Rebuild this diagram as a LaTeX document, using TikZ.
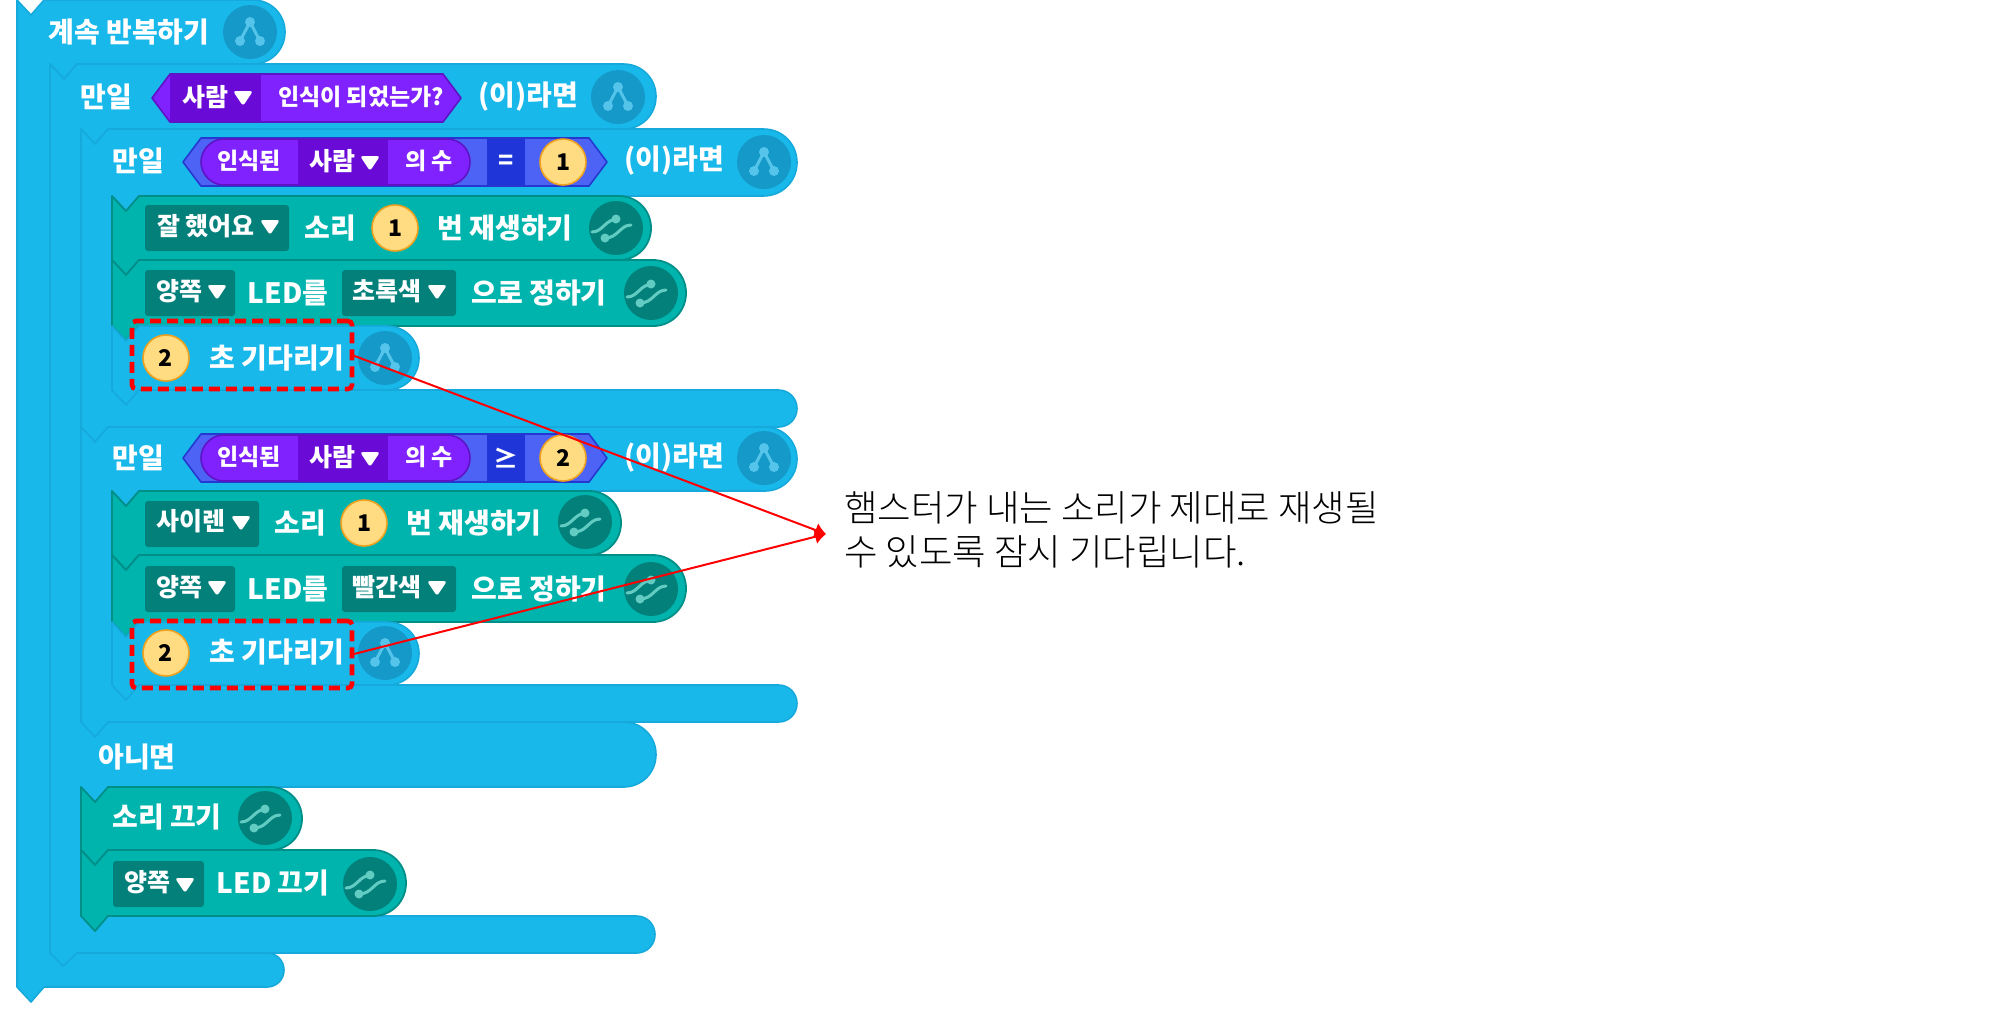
\documentclass[tikz,border=0pt]{standalone}
\usepackage{fontspec}
\setmainfont{Noto Sans CJK KR}
\newfontfamily\notefont{Noto Sans CJK KR Light}
\usetikzlibrary{arrows.meta}
\definecolor{bfill}{HTML}{19B8EA}
\definecolor{bedge}{HTML}{16A9DB}
\definecolor{bicon}{HTML}{1599C8}
\definecolor{bglyph}{HTML}{55C4EA}
\definecolor{gfill}{HTML}{00B4AE}
\definecolor{gedge}{HTML}{008F88}
\definecolor{gdark}{HTML}{03807A}
\definecolor{gglyph}{HTML}{62CCC2}
\definecolor{pfill}{HTML}{7F22FE}
\definecolor{pdark}{HTML}{6A0AD6}
\definecolor{pedge}{HTML}{5E14C4}
\definecolor{hfill}{HTML}{4C63F5}
\definecolor{hdark}{HTML}{1F35D8}
\definecolor{hedge}{HTML}{2438D0}
\definecolor{cfill}{HTML}{FFDC82}
\definecolor{cedge}{HTML}{F0A21E}
\newcount\lblno
% right-hand rounded end of a block
\newcommand\rendcap[3]{-- ({#1-(#3-(#2))*0.5},#2) .. controls ({#1-(#3-(#2))*0.22},#2) and (#1,{#2+(#3-(#2))*0.22}) .. (#1,{(#2+#3)/2}) .. controls (#1,{#3-(#3-(#2))*0.22}) and ({#1-(#3-(#2))*0.22},#3) .. ({#1-(#3-(#2))*0.5},#3)}
% stacked block: style, L, T, R, B
\newcommand\stackblock[5]{\draw[#1] (#2,#3) -- ({#2+14},{#3+15}) -- ({#2+27},#3) \rendcap{#4}{#3}{#5} -- ({#2+27},#5) -- ({#2+14},{#5+15}) -- (#2,#5) -- cycle;}
% one-arm C block: L, T, R, B1, armB, R2, B2, inner
\newcommand\armblock[8]{\draw[blueblk] (#1,#2) -- ({#1+14},{#2+15}) -- ({#1+27},#2) \rendcap{#3}{#2}{#4} -- ({#8+27},#4) -- ({#8+14},{#4+15}) -- (#8,#4) -- (#8,#5) \rendcap{#6}{#5}{#7} -- ({#1+27},#7) -- ({#1+14},{#7+15}) -- (#1,{#7}) -- cycle;}
\newcommand\lbl[3][wtext]{\global\advance\lblno by 1 \node[#1] (t\the\lblno) at (#2) {#3};}
\newcommand\tridown[2]{\fill[white,rounded corners=1.4pt] ({#1-10},{#2-6}) -- ({#1+10},{#2-6}) -- (#1,{#2+9}) -- cycle;}
\newcommand\dropbox[4]{\fill[#1,rounded corners=1.5pt] (#2,{#3}) rectangle #4;}
\newcommand\branchicon[2]{\fill[bicon] (#1,#2) circle [radius=27];
 \draw[bglyph,line width=1.5pt,line join=round] ({#1-10},{#2+9}) -- (#1,{#2-10}) -- ({#1+10},{#2+9});
 \fill[bglyph] (#1,{#2-10}) circle [radius=5] ({#1-10},{#2+9}) circle [radius=5] ({#1+10},{#2+9}) circle [radius=5];}
\newcommand\waveicon[2]{\fill[gdark] (#1,#2) circle [radius=27];
 \draw[gglyph,line width=1.5pt,line cap=round] ({#1-24},{#2+4}) .. controls ({#1-13},{#2+4}) and ({#1-11},{#2-9}) .. ({#1+2},{#2-9});
 \draw[gglyph,line width=1.5pt,line cap=round] ({#1+15},{#2-3}) .. controls ({#1+4},{#2-3}) and ({#1+2},{#2+10}) .. ({#1-11},{#2+10});
 \fill[gglyph] ({#1},{#2-9}) circle [radius=4.5] ({#1-11},{#2+10}) circle [radius=4.5];}
\newcommand\numcirc[3]{\global\advance\lblno by 1 \node[numc] (t\the\lblno) at (#1,#2) {#3};}
\tikzset{
 x=0.5pt,y=-0.5pt,
 blueblk/.style={fill=bfill,draw=bedge,line width=0.8pt,line join=round},
 greenblk/.style={fill=gfill,draw=gedge,line width=0.9pt,line join=round},
 wtext/.style={text=white,font=\fontsize{14}{14}\selectfont\bfseries,inner sep=0pt},
 stext/.style={text=white,font=\fontsize{12.5}{12.5}\selectfont\bfseries,inner sep=0pt},
 xtext/.style={text=white,font=\fontsize{11.5}{11.5}\selectfont\bfseries,inner sep=0pt},
 numc/.style={circle,fill=cfill,draw=cedge,line width=0.8pt,minimum size=23pt,inner sep=0pt,text=black,font=\fontsize{11.5}{11.5}\selectfont\bfseries},
 dashbox/.style={draw=red,line width=2.3pt,dash pattern=on 5.5pt off 3pt,rounded corners=2pt,inner sep=0pt,outer sep=0pt},
 callout/.style={red,line width=1pt,-{Latex[length=5.5pt,width=7.5pt]}},
 notetext/.style={align=left,anchor=west,inner sep=0pt,text=black,font=\notefont\fontsize{18.2}{22}\selectfont},
}
\begin{document}
\begin{tikzpicture}
\useasboundingbox (0,0) rectangle (2000,1008);
\fill[white] (0,0) rectangle (2000,1008);
% outer loop
\armblock{17}{0}{285}{64}{953}{284}{987}{50}
% if-else
\draw[blueblk] (50,64) -- (64,79) -- (77,64) \rendcap{656}{64}{129} -- (108,129) -- (95,144) -- (81,129) -- (81,722) \rendcap{656}{722}{787} -- (108,787) -- (95,802) -- (81,787) -- (81,916) \rendcap{655}{916}{953} -- (77,953) -- (63,966) -- (50,953) -- cycle;
% inner ifs
\armblock{81}{129}{797}{196}{390}{797}{427}{112}
\armblock{81}{427}{797}{491}{685}{797}{722}{112}
% first branch
\stackblock{greenblk}{112}{196}{651}{260}
\stackblock{greenblk}{112}{260}{686}{326}
\stackblock{blueblk}{112}{326}{419}{390}
% second branch
\stackblock{greenblk}{112}{491}{621}{555}
\stackblock{greenblk}{112}{555}{686}{622}
\stackblock{blueblk}{112}{622}{419}{685}
% else branch
\stackblock{greenblk}{81}{787}{302}{850}
\stackblock{greenblk}{81}{850}{406}{916}
% icons
\branchicon{250}{32}
\branchicon{618}{97}
\branchicon{764}{162}
\branchicon{764}{458}
\branchicon{385}{358}
\branchicon{385}{653}
\waveicon{616}{228}
\waveicon{651}{293}
\waveicon{585}{522}
\waveicon{651}{589}
\waveicon{265}{818}
\waveicon{370}{884}
% head labels
\lbl{129,32}{계속 반복하기}
\lbl{106,97}{만일}
\lbl{528,97}{(이)라면}
\lbl{138,161}{만일}
\lbl{674,161}{(이)라면}
\lbl{138,458}{만일}
\lbl{674,458}{(이)라면}
\lbl{137,757}{아니면}
% recognised hexagon
\draw[fill=pfill,draw=pedge,line width=0.8pt,line join=round] (152,98) -- (170,74) -- (443,74) -- (461,98) -- (443,122) -- (170,122) -- cycle;
\fill[pdark] (170,75) rectangle (261,121);
\lbl[stext]{205,97}{사람}
\tridown{243}{97}
\lbl[xtext]{361,97}{인식이 되었는가?}
% comparison hexagons
\foreach \cy/\ct/\cb/\op/\num in {162/139/185/=/1,458/435/481/≥/2}{
 \draw[fill=hfill,draw=hedge,line width=0.8pt,line join=round] (183,\cy) -- (201,{\cy-24}) -- (589,{\cy-24}) -- (607,\cy) -- (589,{\cy+24}) -- (201,{\cy+24}) -- cycle;
 \fill[hdark] (487,{\cy-23}) rectangle (525,{\cy+23});
 \draw[fill=pfill,draw=pedge,line width=0.8pt] (224,\ct) \rendcap{470}{\ct}{\cb} -- (224,\cb) .. controls (211,\cb) and (201,{\cy+12}) .. (201,\cy) .. controls (201,{\cy-12}) and (211,\ct) .. (224,\ct) -- cycle;
 \fill[pdark] (298,{\cy-22.5}) rectangle (388,{\cy+22.5});
 \lbl[xtext]{249,\cy-1}{인식된}
 \lbl[stext]{332,\cy-1}{사람}
 \tridown{370}{\cy}
 \lbl[xtext]{429,\cy-1}{의 수}
 \lbl[stext]{506,\cy}{\op}
 \numcirc{563}{\cy}{\num}
}
% first branch contents
\dropbox{gdark}{145}{205}{(289,251)}
\lbl[stext]{206,226}{잘 했어요}
\tridown{270}{226}
\lbl{330,228}{소리}
\numcirc{395}{228}{1}
\lbl{505,228}{번 재생하기}
\dropbox{gdark}{145}{270}{(235,316)}
\lbl[stext]{179,291}{양쪽}
\tridown{217}{291}
\lbl{288,293}{LED를}
\dropbox{gdark}{342}{270}{(456,316)}
\lbl[stext]{387,291}{초록색}
\tridown{437}{291}
\lbl{539,293}{으로 정하기}
\numcirc{166}{358}{2}
\lbl{277,358}{초 기다리기}
% second branch contents
\dropbox{gdark}{145}{501}{(259,547)}
\lbl[stext]{191,521}{사이렌}
\tridown{241}{522}
\lbl{300,523}{소리}
\numcirc{364}{523}{1}
\lbl{474,523}{번 재생하기}
\dropbox{gdark}{145}{566}{(235,612)}
\lbl[stext]{179,587}{양쪽}
\tridown{217}{587}
\lbl{288,589}{LED를}
\dropbox{gdark}{342}{566}{(456,612)}
\lbl[stext]{387,587}{빨간색}
\tridown{437}{587}
\lbl{539,589}{으로 정하기}
\numcirc{166}{653}{2}
\lbl{277,652}{초 기다리기}
% else contents
\lbl{167,817}{소리 끄기}
\dropbox{gdark}{113}{861}{(204,907)}
\lbl[stext]{147,882}{양쪽}
\tridown{185}{884}
\lbl{273,883}{LED 끄기}
% callouts
\node[dashbox,minimum width=110pt,minimum height=34pt] (wait1) at (242,355) {};
\node[dashbox,minimum width=110pt,minimum height=33.5pt] (wait2) at (242,654.5) {};
\node[notetext] (note) at (844,530) {햄스터가 내는 소리가 제대로 재생될\\수 있도록 잠시 기다립니다.};
\coordinate (tip) at (826,534);
\draw[callout] (wait1.east) -- (tip);
\draw[callout] (wait2.east) -- (tip);
\end{tikzpicture}
\end{document}
